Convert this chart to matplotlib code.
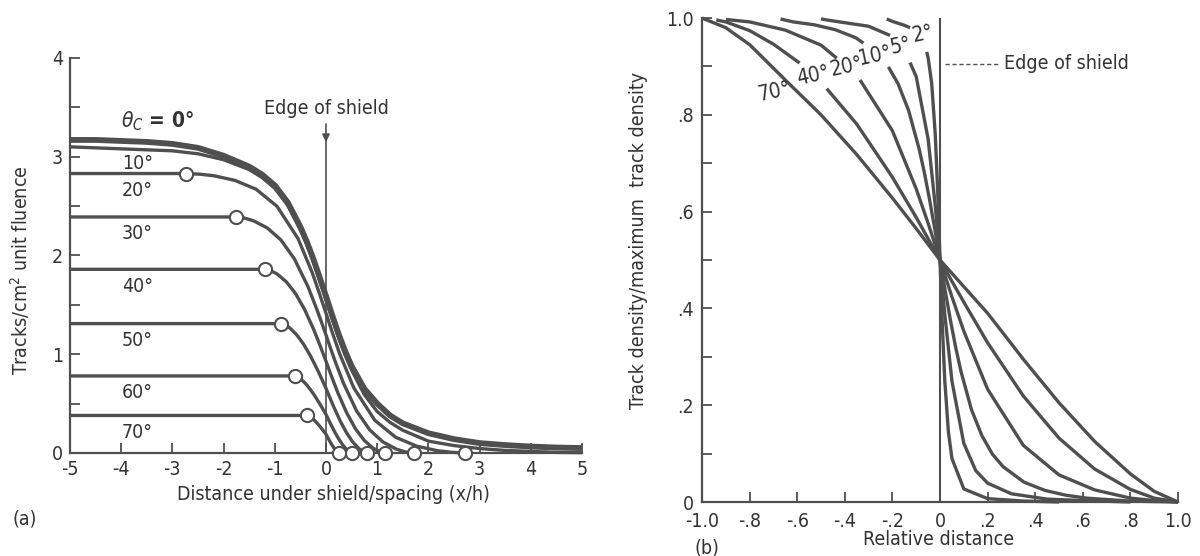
import matplotlib
matplotlib.use('Agg')
import matplotlib.pyplot as plt
from matplotlib.ticker import MultipleLocator

plt.rcParams['font.family'] = ['DejaVu Sans']
plt.rcParams['font.stretch'] = 'condensed'
plt.rcParams['axes.unicode_minus'] = False

# ---- panel (a): tracks per cm^2 vs distance under shield (x/h) ----
c0_x = [-5, -4.5, -4, -3.5, -3, -2.5, -2, -1.5, -1.25, -1, -0.75, -0.5, -0.375, -0.25, -0.125, 0,
        0.125, 0.25, 0.375, 0.5, 0.75, 1, 1.25, 1.5, 2, 2.5, 3, 3.5, 4, 4.5, 5]
c0_y = [3.17, 3.17, 3.16, 3.15, 3.13, 3.09, 3.01, 2.90, 2.82, 2.71, 2.54, 2.29, 2.14, 1.97, 1.78, 1.59,
        1.39, 1.20, 1.03, 0.88, 0.65, 0.50, 0.38, 0.30, 0.20, 0.14, 0.10, 0.08, 0.065, 0.055, 0.05]
c10_x = c0_x
c10_y = [3.10, 3.09, 3.08, 3.07, 3.06, 3.03, 2.97, 2.87, 2.79, 2.68, 2.51, 2.26, 2.11, 1.94, 1.75, 1.55,
         1.35, 1.16, 0.99, 0.84, 0.59, 0.42, 0.31, 0.23, 0.12, 0.075, 0.045, 0.026, 0.016, 0.006, 0.003]
c20_x = [-5, -2.73, -2.457, -2.184, -1.775, -1.365, -0.956, -0.546, -0.273, -0.137, 0,
         0.136, 0.272, 0.544, 0.952, 1.36, 1.768, 2.176, 2.448, 2.72]
c20_y = [2.83, 2.83, 2.823, 2.807, 2.760, 2.671, 2.498, 2.171, 1.832, 1.629, 1.415,
         1.201, 0.998, 0.659, 0.332, 0.159, 0.070, 0.023, 0.007, 0]
c30_x = [-5, -1.76, -1.584, -1.408, -1.144, -0.88, -0.616, -0.352, -0.176, -0.088, 0,
         0.0855, 0.171, 0.342, 0.5985, 0.855, 1.1115, 1.368, 1.539, 1.71]
c30_y = [2.39, 2.39, 2.378, 2.350, 2.278, 2.157, 1.965, 1.685, 1.451, 1.325, 1.195,
         1.066, 0.939, 0.706, 0.425, 0.233, 0.112, 0.040, 0.012, 0]
c40_x = [-5, -1.19, -1.071, -0.952, -0.774, -0.595, -0.417, -0.238, -0.119, -0.060, 0,
         0.058, 0.115, 0.23, 0.403, 0.575, 0.748, 0.92, 1.035, 1.15]
c40_y = [1.86, 1.86, 1.844, 1.812, 1.733, 1.615, 1.453, 1.248, 1.093, 1.012, 0.93,
         0.848, 0.767, 0.612, 0.408, 0.245, 0.127, 0.048, 0.016, 0]
c50_x = [-5, -0.88, -0.792, -0.704, -0.572, -0.44, -0.308, -0.176, -0.088, -0.044, 0,
         0.04, 0.08, 0.16, 0.28, 0.4, 0.52, 0.64, 0.72, 0.8]
c50_y = [1.31, 1.31, 1.295, 1.265, 1.197, 1.104, 0.988, 0.853, 0.755, 0.705, 0.655,
         0.605, 0.555, 0.457, 0.322, 0.206, 0.113, 0.046, 0.015, 0]
c60_x = [-5, -0.61, -0.549, -0.488, -0.397, -0.305, -0.214, -0.122, -0.061, -0.031, 0,
         0.026, 0.051, 0.102, 0.179, 0.255, 0.332, 0.408, 0.459, 0.51]
c60_y = [0.78, 0.78, 0.769, 0.747, 0.702, 0.643, 0.575, 0.498, 0.445, 0.417, 0.39,
         0.363, 0.335, 0.282, 0.205, 0.137, 0.078, 0.033, 0.011, 0]
c70_x = [-5, -0.37, -0.296, -0.241, -0.185, -0.130, -0.074, -0.037, 0,
         0.026, 0.052, 0.091, 0.13, 0.169, 0.208, 0.234, 0.25]
c70_y = [0.38, 0.38, 0.362, 0.338, 0.309, 0.276, 0.240, 0.215, 0.19,
         0.165, 0.140, 0.104, 0.071, 0.042, 0.018, 0.006, 0]
labels_a = ['10°', '20°', '30°', '40°', '50°', '60°', '70°']

# ---- panel (b): normalised track density vs relative distance ----
# upper half (outside shield), drawn in pieces with gaps for the labels
u70_x = [-1, -0.9, -0.8, -0.65, -0.5, -0.35, -0.2, -0.1, 0]
u70_y = [1, 0.980, 0.945, 0.872, 0.800, 0.718, 0.628, 0.565, 0.5]
u40a_x = [-0.94, -0.9, -0.8, -0.7, -0.59]
u40a_y = [0.996, 0.992, 0.974, 0.946, 0.907]
u40b_x = [-0.476, -0.35, -0.2, -0.1, -0.05, 0]
u40b_y = [0.854, 0.781, 0.671, 0.588, 0.544, 0.5]
u20a_x = [-0.90, -0.8, -0.65, -0.5, -0.434]
u20a_y = [0.997, 0.992, 0.975, 0.944, 0.917]
u20b_x = [-0.336, -0.2, -0.1, -0.05, 0]
u20b_y = [0.872, 0.767, 0.647, 0.576, 0.5]
u10a_x = [-0.67, -0.617, -0.529, -0.441, -0.353, -0.322]
u10a_y = [0.998, 0.992, 0.986, 0.976, 0.959, 0.948]
u10b_x = [-0.217, -0.176, -0.132, -0.088, -0.066, -0.044, -0.022, 0]
u10b_y = [0.899, 0.864, 0.809, 0.730, 0.681, 0.625, 0.564, 0.5]
u5a_x = [-0.5, -0.45, -0.3, -0.21]
u5a_y = [0.998, 0.994, 0.983, 0.964]
u5b_x = [-0.126, -0.1, -0.05, -0.02, -0.01, 0]
u5b_y = [0.908, 0.879, 0.750, 0.612, 0.557, 0.5]
u2a_x = [-0.224, -0.2, -0.15, -0.126]
u2a_y = [0.998, 0.993, 0.985, 0.980]
u2b_x = [-0.056, -0.05, -0.035, -0.02, -0.01, -0.005, 0]
u2b_y = [0.930, 0.918, 0.865, 0.760, 0.645, 0.575, 0.5]
# lower half (under shield)
l70_x = [0, 0.1, 0.2, 0.35, 0.5, 0.65, 0.8, 0.9, 1]
l70_y = [0.5, 0.445, 0.390, 0.295, 0.205, 0.125, 0.058, 0.022, 0]
l40_x = [0, 0.05, 0.1, 0.2, 0.35, 0.5, 0.65, 0.8, 0.9, 1]
l40_y = [0.5, 0.456, 0.413, 0.329, 0.219, 0.132, 0.068, 0.026, 0.008, 0]
l20_x = [0, 0.05, 0.1, 0.2, 0.35, 0.5, 0.65, 0.8, 0.9, 1]
l20_y = [0.5, 0.424, 0.353, 0.233, 0.117, 0.056, 0.025, 0.008, 0.003, 0]
l10_x = [0, 0.011, 0.022, 0.044, 0.066, 0.088, 0.132, 0.176, 0.22, 0.265, 0.353, 0.441,
         0.529, 0.617, 0.705, 0.794, 0.882, 1]
l10_y = [0.5, 0.468, 0.436, 0.375, 0.319, 0.270, 0.191, 0.137, 0.099, 0.073, 0.041, 0.024,
         0.014, 0.008, 0.005, 0.002, 0.001, 0]
l5_x = [0, 0.01, 0.02, 0.05, 0.1, 0.15, 0.2, 0.3, 0.45, 0.6, 0.8]
l5_y = [0.5, 0.443, 0.388, 0.250, 0.121, 0.065, 0.039, 0.017, 0.006, 0.003, 0]
l2_x = [0, 0.005, 0.01, 0.02, 0.035, 0.05, 0.1, 0.2, 0.35, 0.5]
l2_y = [0.5, 0.429, 0.362, 0.251, 0.146, 0.090, 0.027, 0.007, 0.002, 0]
labels_b = ['70°', '40°', '20°', '10°', '5°', '2°']
label_b_x = [-0.695, -0.535, -0.392, -0.272, -0.165, -0.072]
label_b_y = [0.848, 0.880, 0.899, 0.922, 0.942, 0.968]

ink = '#4f4f4f'
txt = '#333333'

fig = plt.figure(figsize=(12, 5.56), dpi=100)
ax1 = fig.add_axes([0.0583, 0.1853, 0.4267, 0.7104])
ax2 = fig.add_axes([0.585, 0.0971, 0.3967, 0.8705])

for ax in (ax1, ax2):
    ax.spines['top'].set_visible(False)
    ax.spines['right'].set_visible(False)
    for s in ('left', 'bottom'):
        ax.spines[s].set_color(ink)
        ax.spines[s].set_linewidth(1.6)
    ax.tick_params(which='both', direction='in', length=7, width=1.3, color=ink,
                   labelcolor=txt, labelsize=14, pad=3)

# panel (a)
ax1.set_xlim(-5, 5)
ax1.set_ylim(0, 4)
ax1.set_xticks(range(-5, 6))
ax1.set_xticklabels([str(v) for v in range(-5, 6)])
ax1.set_yticks([0, 1, 2, 3, 4])
ax1.yaxis.set_minor_locator(MultipleLocator(0.5))
ax1.tick_params(axis='x', pad=5)
ax1.tick_params(axis='y', pad=5)

ax1.plot(c0_x, c0_y, color=ink, lw=4.2, clip_on=False, solid_capstyle='butt')
ax1.plot(c10_x, c10_y, color=ink, lw=2.4, clip_on=False, solid_capstyle='butt')
curves_a = [(c20_x, c20_y), (c30_x, c30_y), (c40_x, c40_y), (c50_x, c50_y),
            (c60_x, c60_y), (c70_x, c70_y)]
for cx, cy in curves_a:
    ax1.plot(cx, cy, color=ink, lw=2.4, clip_on=False, solid_capstyle='butt')
    ax1.plot([cx[1], cx[-1]], [cy[1], cy[-1]], 'o', ms=9.5, mfc='white', mec=ink,
             mew=1.5, zorder=5, clip_on=False)

plateaus = [c10_y[0]] + [cy[0] for cx, cy in curves_a]
for lab, p in zip(labels_a, plateaus):
    ax1.text(-3.68, p - 0.17, lab, ha='center', va='center', fontsize=14, color=txt)
ax1.text(-3.3, 3.36, r'$\theta_C$ = 0°', ha='center', va='center', fontsize=15,
         color=txt, fontweight='bold')

ax1.plot([0, 0], [0, 3.2], color=ink, lw=1.2)
ax1.annotate('', xy=(0, 3.12), xytext=(0, 3.36),
             arrowprops=dict(arrowstyle='-|>', color=ink, lw=1.2, mutation_scale=11))
ax1.text(0, 3.49, 'Edge of shield', ha='center', va='center', fontsize=14, color=txt)

# panel (b)
ax2.set_xlim(-1, 1)
ax2.set_ylim(0, 1)
xt = [-1.0, -0.8, -0.6, -0.4, -0.2, 0, 0.2, 0.4, 0.6, 0.8, 1.0]
ax2.set_xticks(xt)
ax2.set_xticklabels(['-1.0', '-.8', '-.6', '-.4', '-.2', '0', '.2', '.4', '.6', '.8', '1.0'])
ax2.set_yticks([0, 0.2, 0.4, 0.6, 0.8, 1.0])
ax2.set_yticklabels(['0', '.2', '.4', '.6', '.8', '1.0'])
ax2.yaxis.set_minor_locator(MultipleLocator(0.1))
ax2.tick_params(axis='y', pad=6)
ax2.tick_params(axis='x', pad=7)

ax2.plot([0, 0], [0, 1.0], color=ink, lw=1.5)
pieces = [(u70_x, u70_y), (u40a_x, u40a_y), (u40b_x, u40b_y), (u20a_x, u20a_y),
          (u20b_x, u20b_y), (u10a_x, u10a_y), (u10b_x, u10b_y), (u5a_x, u5a_y),
          (u5b_x, u5b_y), (u2a_x, u2a_y), (u2b_x, u2b_y),
          (l70_x, l70_y), (l40_x, l40_y), (l20_x, l20_y), (l10_x, l10_y),
          (l5_x, l5_y), (l2_x, l2_y)]
for px, py in pieces:
    ax2.plot(px, py, color=ink, lw=2.4, clip_on=False, solid_capstyle='butt')

for lab, lx, ly in zip(labels_b, label_b_x, label_b_y):
    ax2.text(lx, ly, lab, ha='center', va='center', fontsize=15, color=txt, rotation=12)

ax2.plot([0.02, 0.25], [0.905, 0.905], color=ink, lw=1.0, ls=(0, (3, 2)))
ax2.text(0.27, 0.905, 'Edge of shield', ha='left', va='center', fontsize=14, color=txt)

# axis titles and panel tags
fig.text(0.017, 0.514, 'Tracks/cm$^2$ unit fluence', rotation=90, ha='center', va='center',
         fontsize=14, color=txt)
fig.text(0.2775, 0.110, 'Distance under shield/spacing (x/h)', ha='center', va='center',
         fontsize=14, color=txt)
fig.text(0.010, 0.067, '(a)', ha='left', va='center', fontsize=14, color=txt)
fig.text(0.532, 0.567, 'Track density/maximum  track density', rotation=90, ha='center',
         va='center', fontsize=14, color=txt)
fig.text(0.7825, 0.030, 'Relative distance', ha='center', va='center', fontsize=14, color=txt)
fig.text(0.579, 0.014, '(b)', ha='left', va='center', fontsize=14, color=txt)

fig.savefig('out.png', dpi=100, facecolor='white')
